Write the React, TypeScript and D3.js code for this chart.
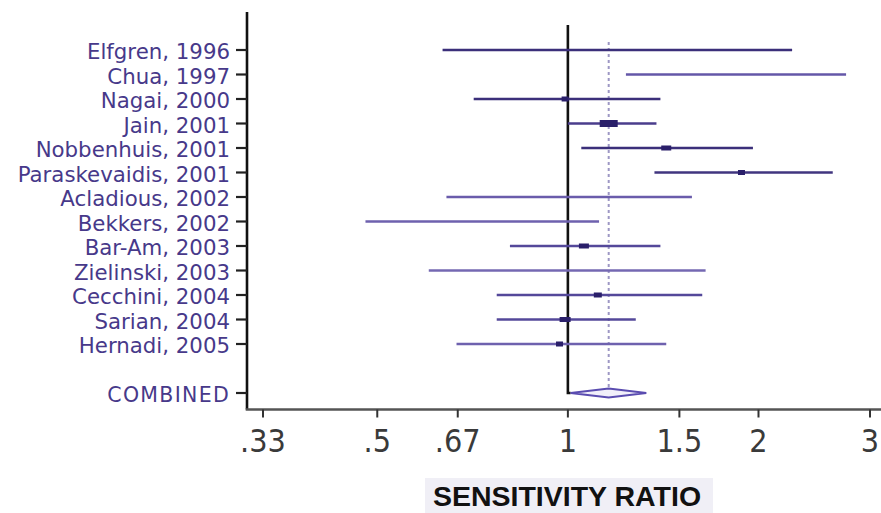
import React from "react";
import * as d3 from "d3";

const studies = [
  "Elfgren, 1996",
  "Chua, 1997",
  "Nagai, 2000",
  "Jain, 2001",
  "Nobbenhuis, 2001",
  "Paraskevaidis, 2001",
  "Acladious, 2002",
  "Bekkers, 2002",
  "Bar-Am, 2003",
  "Zielinski, 2003",
  "Cecchini, 2004",
  "Sarian, 2004",
  "Hernadi, 2005",
];
const lower = [0.634, 1.235, 0.71, 1.0, 1.05, 1.37, 0.643, 0.479, 0.81, 0.603, 0.772, 0.772, 0.667];
const upper = [2.26, 2.75, 1.4, 1.38, 1.96, 2.62, 1.57, 1.12, 1.4, 1.65, 1.63, 1.28, 1.43];
const estimate: (number | null)[] = [null, null, 0.99, 1.16, 1.43, 1.88, null, null, 1.06, null, 1.115, 0.99, 0.97];
const weights = [0, 0, 7, 18, 10, 7, 0, 0, 10, 0, 8, 11, 7];
const combinedLabel = "COMBINED";
const combined = { est: 1.16, lo: 1.01, hi: 1.33 };
const tickValues = [0.33, 0.5, 0.67, 1, 1.5, 2, 3];
const tickLabels = [".33", ".5", ".67", "1", "1.5", "2", "3"];
const axisTitle = "SENSITIVITY RATIO";

// style only (not data)
const lineColors = [
  "#3b2f7a", "#6457a8", "#3b2f7a", "#4a3d8c", "#3b2f7a", "#40357f", "#6a5cab",
  "#6e61ae", "#54489a", "#7468b2", "#54489a", "#54489a", "#6e61ae",
];

export default function App() {
  const W = 881;
  const H = 513;
  const x = d3.scaleLog().domain([0.33, 3]).range([263, 870]);
  const y = d3.scaleLinear().domain([0, 14]).range([50, 393]);
  const boxW = d3.scaleLinear().domain([0, 18]).range([0, 18]);
  const axisX = 247;
  const axisTop = 12;
  const axisBottom = 409.5;
  const labelColor = "#47398a";
  const yCombined = y(studies.length + 1);

  const diamond = d3.line()([
    [x(combined.lo), yCombined],
    [x(combined.est), yCombined - 4.5],
    [x(combined.hi), yCombined],
    [x(combined.est), yCombined + 4.5],
  ]) + "Z";

  return (
    <svg
      width={W}
      height={H}
      style={{ position: "fixed", left: 0, top: 0, background: "#fff" }}
    >
      <rect x={0} y={0} width={W} height={H} fill="#fff" />
      {/* dashed combined-estimate line */}
      <line
        x1={x(combined.est)}
        x2={x(combined.est)}
        y1={42}
        y2={yCombined - 3}
        stroke="#9d97c4"
        strokeWidth={2}
        strokeDasharray="3,3"
      />
      {/* null line */}
      <path
        d={`M${x(1)},25 L${x(1)},${yCombined} L${x(combined.lo)},${yCombined}`}
        fill="none"
        stroke="#111"
        strokeWidth={2.6}
      />
      {/* CI lines */}
      {studies.map((s, i) => (
        <line
          key={"ci" + s}
          x1={x(lower[i])}
          x2={x(upper[i])}
          y1={y(i)}
          y2={y(i)}
          stroke={lineColors[i]}
          strokeWidth={2.6}
        />
      ))}
      {/* point estimate boxes */}
      {studies.map((s, i) =>
        estimate[i] != null && weights[i] > 0 ? (
          <rect
            key={"pt" + s}
            x={x(estimate[i] as number) - boxW(weights[i]) / 2}
            y={y(i) - (weights[i] > 12 ? 3.5 : 2.5)}
            width={boxW(weights[i])}
            height={weights[i] > 12 ? 7 : 5}
            fill="#2a1f6a"
          />
        ) : null
      )}
      {/* combined diamond */}
      <path d={diamond} fill="#f1effa" stroke="#5a4cb0" strokeWidth={1.8} />
      {/* y axis */}
      <line x1={axisX} x2={axisX} y1={axisTop} y2={axisBottom} stroke="#111" strokeWidth={2.6} />
      {[...studies.map((s, i) => ({ s, yy: y(i) })), { s: combinedLabel, yy: yCombined }].map((d) => (
        <g key={"yl" + d.s}>
          <line x1={axisX - 11} x2={axisX} y1={d.yy} y2={d.yy} stroke="#222" strokeWidth={2.2} />
          <text
            x={230}
            y={d.yy + 9}
            textAnchor="end"
            fontFamily="'DejaVu Sans', sans-serif"
            fontSize={d.s === combinedLabel ? 20.5 : 21.3}
            letterSpacing={d.s === combinedLabel ? 1.3 : 0}
            fill={labelColor}
          >
            {d.s}
          </text>
        </g>
      ))}
      {/* x axis */}
      <line x1={axisX - 1.3} x2={W} y1={axisBottom} y2={axisBottom} stroke="#555" strokeWidth={2.6} />
      {tickValues.map((v, i) => (
        <g key={"xt" + v}>
          <line x1={x(v)} x2={x(v)} y1={axisBottom} y2={axisBottom + 8} stroke="#333" strokeWidth={2} />
          <text
            x={x(v)}
            y={452}
            textAnchor="middle"
            fontFamily="'DejaVu Sans Condensed', 'Liberation Sans Narrow', 'Liberation Sans', sans-serif"
            fontSize={32}
            fill="#3a3a3a"
          >
            {tickLabels[i]}
          </text>
        </g>
      ))}
      {/* axis title */}
      <rect x={425} y={478} width={288} height={35} fill="#f0eff6" />
      <text
        x={567}
        y={506}
        textAnchor="middle"
        fontFamily="'Liberation Sans', Arial, sans-serif"
        fontWeight="bold"
        fontSize={28.5}
        fill="#111"
      >
        {axisTitle}
      </text>
    </svg>
  );
}
